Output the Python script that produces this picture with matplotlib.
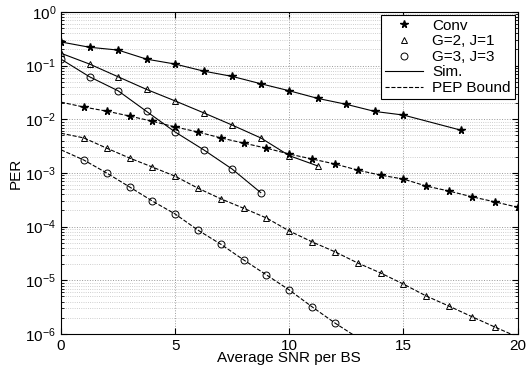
import matplotlib.pyplot as plt
from matplotlib.lines import Line2D
from matplotlib.ticker import LogLocator, NullFormatter

plt.rcParams['font.family'] = ['Liberation Sans', 'DejaVu Sans']

# simulation points (step 1.25 dB)
conv_sim_x = [0, 1.25, 2.5, 3.75, 5, 6.25, 7.5, 8.75, 10, 11.25, 12.5, 13.75, 15, 17.5]
conv_sim_y = [0.276, 0.22, 0.195, 0.132, 0.107, 0.079, 0.063, 0.046, 0.034, 0.0245,
              0.019, 0.014, 0.012, 0.0063]

g2_sim_x = [0, 1.25, 2.5, 3.75, 5, 6.25, 7.5, 8.75, 10, 11.25]
g2_sim_y = [0.17, 0.107, 0.062, 0.036, 0.022, 0.0132, 0.0078, 0.0045, 0.0021, 0.00135]

g3_sim_x = [0, 1.25, 2.5, 3.75, 5, 6.25, 7.5, 8.75]
g3_sim_y = [0.132, 0.062, 0.034, 0.014, 0.0058, 0.0027, 0.00118, 0.00043]

# PEP bounds (step 1 dB)
pep_x = list(range(0, 21))
conv_pep_y = [0.0209, 0.0169, 0.0142, 0.0115, 0.0092, 0.0072, 0.0058, 0.0045, 0.0036,
              0.0029, 0.00225, 0.00182, 0.00147, 0.00113, 0.00091, 0.00077, 0.00057,
              0.00046, 0.00036, 0.00029, 0.00023]
g2_pep_y = [5.5e-3, 4.5e-3, 2.9e-3, 1.9e-3, 1.29e-3, 8.7e-4, 5.2e-4, 3.3e-4, 2.2e-4,
            1.45e-4, 8.3e-5, 5.2e-5, 3.4e-5, 2.1e-5, 1.37e-5, 8.5e-6, 5.1e-6, 3.3e-6,
            2.1e-6, 1.35e-6, 8.8e-7]
g3_pep_x = list(range(0, 14))
g3_pep_y = [2.7e-3, 1.74e-3, 1.0e-3, 5.5e-4, 3.0e-4, 1.72e-4, 8.6e-5, 4.7e-5, 2.4e-5,
            1.26e-5, 6.6e-6, 3.2e-6, 1.6e-6, 8.5e-7]

fig = plt.figure(figsize=(5.26, 3.74), dpi=100)
ax = fig.add_axes([0.116, 0.107, 0.868, 0.861])

lw = 0.8
ax.semilogy(conv_sim_x, conv_sim_y, 'k-', marker='*', markersize=5.5, lw=lw)
ax.semilogy(g2_sim_x, g2_sim_y, 'k-', marker='^', mfc='none', markersize=5, lw=lw, mew=0.7)
ax.semilogy(g3_sim_x, g3_sim_y, 'k-', marker='o', mfc='none', markersize=5, lw=lw, mew=0.7)
ax.semilogy(pep_x, conv_pep_y, 'k--', marker='*', markersize=5.5, lw=lw, markevery=slice(1, None))
ax.semilogy(pep_x, g2_pep_y, 'k--', marker='^', mfc='none', markersize=5, lw=lw, mew=0.7,
            markevery=slice(1, None))
ax.semilogy(g3_pep_x, g3_pep_y, 'k--', marker='o', mfc='none', markersize=5, lw=lw, mew=0.7,
            markevery=slice(1, None))

ax.set_xlim(0, 20)
ax.set_ylim(1e-6, 1)
ax.set_xticks([0, 5, 10, 15, 20])
ax.yaxis.set_major_locator(LogLocator(base=10, numticks=10))
ax.yaxis.set_minor_locator(LogLocator(base=10, subs=range(2, 10), numticks=20))
ax.yaxis.set_minor_formatter(NullFormatter())
ax.tick_params(which='both', direction='in', top=True, right=True, labelsize=11)
ax.tick_params(which='major', length=4)
ax.tick_params(which='minor', length=2)
ax.grid(True, which='major', ls=':', color='0.6', lw=0.7)
ax.grid(True, which='minor', axis='y', ls=':', color='0.75', lw=0.6)

ax.set_xlabel('Average SNR per BS', fontsize=11, labelpad=-1)
ax.set_ylabel('PER', fontsize=11, labelpad=2)

handles = [
    Line2D([], [], color='k', ls='none', marker='*', markersize=5.5),
    Line2D([], [], color='k', ls='none', marker='^', mfc='none', markersize=5, mew=0.7),
    Line2D([], [], color='k', ls='none', marker='o', mfc='none', markersize=5, mew=0.7),
    Line2D([], [], color='k', ls='-', lw=lw),
    Line2D([], [], color='k', ls='--', lw=lw),
]
labels = ['Conv', 'G=2, J=1', 'G=3, J=3', 'Sim.', 'PEP Bound']
leg = ax.legend(handles, labels, loc='upper right', fontsize=11, frameon=True, fancybox=False,
                edgecolor='k', framealpha=1, borderaxespad=0.2, handlelength=2.5,
                labelspacing=0.1, borderpad=0.25, handletextpad=0.6)
leg.get_frame().set_linewidth(0.8)

fig.savefig('out.png', dpi=100)
